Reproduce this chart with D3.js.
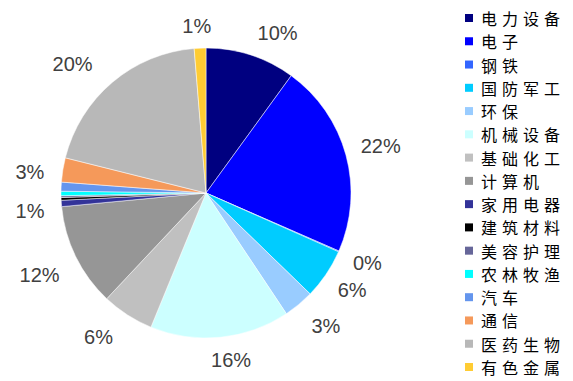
<!DOCTYPE html>
<html><head><meta charset="utf-8">
<script src="https://cdn.jsdelivr.net/npm/d3@7"></script>
<style>html,body{margin:0;padding:0;background:#fff;}svg{display:block;}</style>
</head><body>
<script>
const categories = ["电力设备","电子","钢铁","国防军工","环保","机械设备","基础化工","计算机","家用电器","建筑材料","美容护理","农林牧渔","汽车","通信","医药生物","有色金属"];
const values = [10.0, 21.55, 0.1, 5.6, 3.4, 15.55, 5.8, 11.5, 0.7, 0.3, 0.2, 0.5, 1.0, 2.7, 19.8, 1.3];
const colors = ["#000080","#0000FF","#3366FF","#00CCFF","#99CCFF","#CCFFFF","#C0C0C0","#969696","#333399","#000000","#666699","#00FFFF","#6495ED","#F5995A","#B8B8B8","#FFCC33"];
const hiddenLabels = ["建筑材料","美容护理","农林牧渔","汽车"];

const W = 573, H = 381;
const cx = 206, cy = 193, R = 145, r0 = 163;
// small manual label adjustments (as in the original layout)
const nudge = {"电力设备":[15,5],"电子":[-2,-2],"环保":[7,0],"机械设备":[7,-5],"基础化工":[-12,-1],"计算机":[-2,6],"家用电器":[0,6],"通信":[-2,7],"医药生物":[-15,3],"有色金属":[-2,6]};

const svg = d3.select("body").append("svg").attr("width", W).attr("height", H);

const total = d3.sum(values);
const data = categories.map((c, i) => ({cat: c, value: values[i], color: colors[i]}));
const pie = d3.pie().value(d => d.value).sort(null);
const arcs = pie(data);
const arc = d3.arc().innerRadius(0).outerRadius(R);

const g = svg.append("g").attr("transform", `translate(${cx},${cy})`);
g.selectAll("path").data(arcs).enter().append("path")
  .attr("d", arc).attr("fill", d => d.data.color)
  .attr("stroke", "#fff").attr("stroke-width", 0.5);

const fs = 20;
g.selectAll("text.lbl").data(arcs.filter(d => !hiddenLabels.includes(d.data.cat))).enter()
  .append("text").attr("class", "lbl")
  .each(function(d) {
    const txt = Math.round(d.data.value / total * 100) + "%";
    const t = (d.startAngle + d.endAngle) / 2;
    const s = Math.sin(t), c = Math.cos(t);
    const w = txt.length * fs * 0.67, h = fs;
    const n = nudge[d.data.cat] || [0, 0];
    const x = r0 * s + s * w / 2 + n[0];
    const y = -r0 * c - c * h / 2 + n[1];
    d3.select(this).attr("x", x).attr("y", y).text(txt);
  })
  .attr("text-anchor", "middle").attr("dominant-baseline", "central")
  .attr("font-family", "Liberation Sans, Arial, sans-serif").attr("font-size", fs)
  .attr("fill", "#404040");

const legendY = d3.scalePoint().domain(categories).range([18, 367]);
const lg = svg.append("g");
const items = lg.selectAll("g").data(data).enter().append("g")
  .attr("transform", d => `translate(465,${legendY(d.cat)})`);
items.append("rect").attr("x", 0).attr("y", -4).attr("width", 8).attr("height", 8)
  .attr("fill", d => d.color);
items.append("text").attr("x", 16).attr("y", 0).attr("dominant-baseline", "central")
  .attr("font-family", "Noto Sans CJK SC, sans-serif").attr("font-size", 16)
  .attr("letter-spacing", 5).attr("fill", "#000")
  .text(d => d.cat);
</script>
</body></html>
